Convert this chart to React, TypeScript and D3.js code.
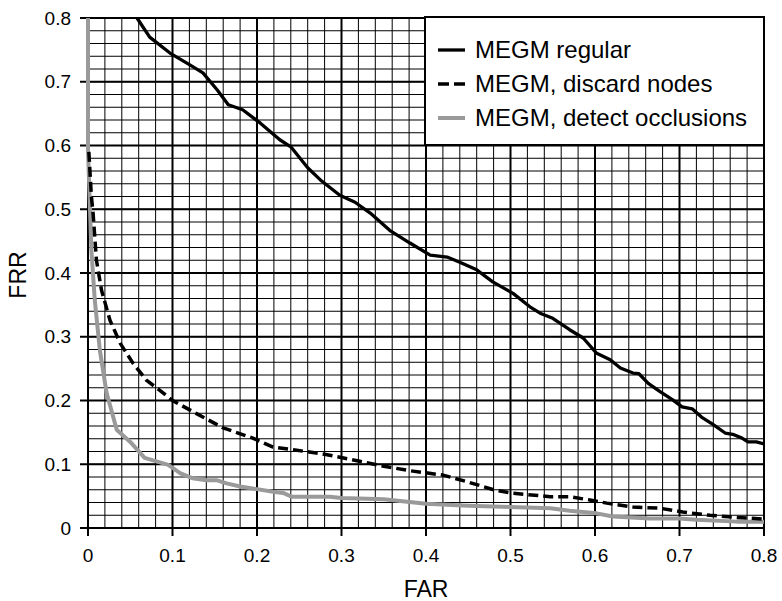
import React from "react";
import * as d3 from "d3";

const xTicks = [0, 0.1, 0.2, 0.3, 0.4, 0.5, 0.6, 0.7, 0.8];
const yTicks = [0, 0.1, 0.2, 0.3, 0.4, 0.5, 0.6, 0.7, 0.8];

const regularFar = [0.058,0.073,0.097,0.121,0.136,0.153,0.166,0.183,0.204,0.227,0.24,0.26,0.275,0.298,0.316,0.334,0.357,0.381,0.405,0.425,0.44,0.46,0.479,0.503,0.523,0.535,0.55,0.57,0.586,0.602,0.618,0.63,0.645,0.652,0.663,0.677,0.692,0.703,0.715,0.726,0.74,0.754,0.763,0.774,0.781,0.791,0.8];
const regularFrr = [0.8,0.77,0.745,0.726,0.714,0.687,0.664,0.656,0.635,0.609,0.598,0.565,0.546,0.522,0.511,0.494,0.467,0.447,0.428,0.425,0.417,0.405,0.386,0.368,0.347,0.337,0.329,0.311,0.298,0.274,0.264,0.251,0.243,0.242,0.227,0.214,0.201,0.19,0.187,0.174,0.162,0.149,0.147,0.141,0.135,0.135,0.132];

const discardFar = [0.001,0.004,0.006,0.010,0.016,0.026,0.038,0.053,0.069,0.085,0.1,0.129,0.16,0.195,0.219,0.247,0.283,0.32,0.35,0.38,0.42,0.45,0.48,0.5,0.547,0.57,0.594,0.614,0.645,0.677,0.704,0.736,0.763,0.8];
const discardFrr = [0.59,0.52,0.494,0.42,0.373,0.326,0.29,0.259,0.232,0.216,0.2,0.179,0.157,0.141,0.127,0.122,0.115,0.105,0.097,0.09,0.083,0.072,0.06,0.055,0.049,0.049,0.044,0.039,0.033,0.031,0.025,0.02,0.017,0.014];

const occlFar = [0,0,0.004,0.008,0.014,0.022,0.034,0.05,0.067,0.095,0.109,0.124,0.14,0.152,0.164,0.18,0.2,0.219,0.231,0.241,0.286,0.3,0.35,0.4,0.45,0.5,0.547,0.57,0.602,0.621,0.665,0.7,0.72,0.768,0.8];
const occlFrr = [0.8,0.593,0.436,0.358,0.279,0.212,0.154,0.135,0.11,0.099,0.086,0.078,0.075,0.075,0.07,0.065,0.061,0.057,0.055,0.049,0.049,0.047,0.045,0.038,0.035,0.033,0.031,0.027,0.023,0.018,0.015,0.015,0.013,0.01,0.01];

const seriesNames = ["MEGM regular", "MEGM, discard nodes", "MEGM, detect occlusions"];

const FONT = "'Liberation Sans', Arial, Helvetica, sans-serif";

export default function App() {
  const W = 782, H = 601;
  const x = d3.scaleLinear().domain([0, 0.8]).range([88, 764]);
  const y = d3.scaleLinear().domain([0, 0.8]).range([528, 18]);

  const minorX = d3.range(0, 0.8001, 0.02);
  const minorY = d3.range(0, 0.8001, 0.02);

  const line = d3.line<[number, number]>().x(d => x(d[0])).y(d => y(d[1]));
  const zip = (a: number[], b: number[]) => a.map((v, i) => [v, b[i]] as [number, number]);

  const series = [
    { name: seriesNames[2], data: zip(occlFar, occlFrr), stroke: "#9a9a9a", width: 4, dash: undefined },
    { name: seriesNames[1], data: zip(discardFar, discardFrr), stroke: "#000", width: 3.5, dash: "10,5" },
    { name: seriesNames[0], data: zip(regularFar, regularFrr), stroke: "#000", width: 3.3, dash: undefined },
  ];
  const legendOrder = [series[2], series[1], series[0]];

  return (
    <svg width={W} height={H} style={{ position: "absolute", left: 0, top: 0, background: "#fff" }} fontFamily={FONT}>
      <rect x={0} y={0} width={W} height={H} fill="#fff" />
      {minorX.map((v, i) => (
        <line key={"mx" + i} x1={x(v)} x2={x(v)} y1={y(0)} y2={y(0.8)} stroke="#000" strokeWidth={1} />
      ))}
      {minorY.map((v, i) => (
        <line key={"my" + i} x1={x(0)} x2={x(0.8)} y1={y(v)} y2={y(v)} stroke="#000" strokeWidth={1} />
      ))}
      {xTicks.map((v, i) => (
        <line key={"Mx" + i} x1={x(v)} x2={x(v)} y1={y(0)} y2={y(0.8)} stroke="#000" strokeWidth={2} />
      ))}
      {yTicks.map((v, i) => (
        <line key={"My" + i} x1={x(0)} x2={x(0.8)} y1={y(v)} y2={y(v)} stroke="#000" strokeWidth={2} />
      ))}
      {xTicks.map((v, i) => (
        <g key={"xt" + i}>
          <line x1={x(v)} x2={x(v)} y1={y(0)} y2={y(0) + 8} stroke="#000" strokeWidth={2} />
          <text x={x(v)} y={562} textAnchor="middle" fontSize={19} fill="#000">{String(v)}</text>
        </g>
      ))}
      {yTicks.map((v, i) => (
        <g key={"yt" + i}>
          <line x1={x(0) - 8} x2={x(0)} y1={y(v)} y2={y(v)} stroke="#000" strokeWidth={2} />
          <text x={71} y={y(v)} dy="0.35em" textAnchor="end" fontSize={19} fill="#000">{String(v)}</text>
        </g>
      ))}
      {series.map((s, i) => (
        <path key={"s" + i} d={line(s.data) || ""} fill="none" stroke={s.stroke} strokeWidth={s.width}
          strokeDasharray={s.dash} strokeLinejoin="round" />
      ))}
      <rect x={425} y={17} width={339} height={128} fill="#fff" stroke="#000" strokeWidth={2} />
      {legendOrder.map((s, i) => {
        const cy = 50 + i * 34;
        return (
          <g key={"lg" + i}>
            <line x1={438} x2={465} y1={cy} y2={cy} stroke={s.stroke} strokeWidth={s.width}
              strokeDasharray={s.dash ? "11,5" : undefined} />
            <text x={475} y={cy} dy="0.35em" fontSize={24} fill="#000">{s.name}</text>
          </g>
        );
      })}
      <text x={426} y={597} textAnchor="middle" fontSize={23} fill="#000">FAR</text>
      <text transform={`translate(26,275) rotate(-90)`} textAnchor="middle" fontSize={23} fill="#000">FRR</text>
    </svg>
  );
}
